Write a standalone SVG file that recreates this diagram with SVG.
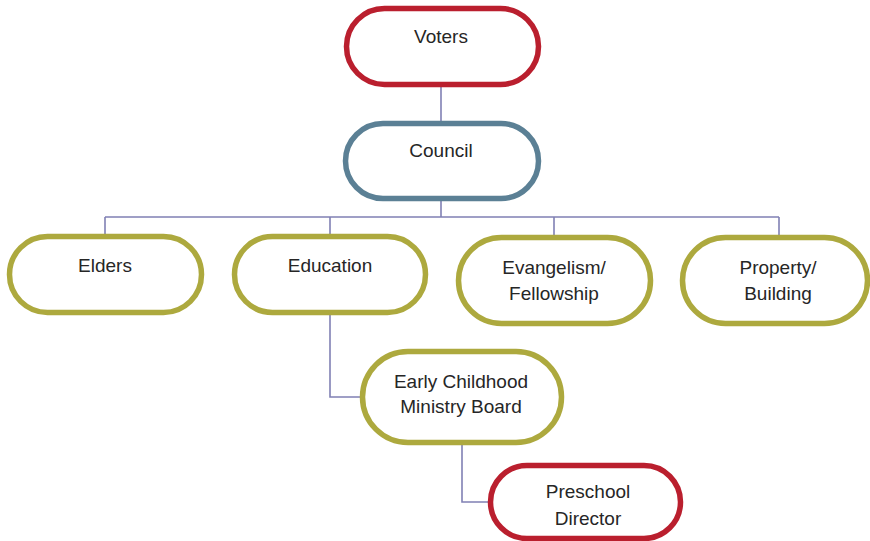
<svg xmlns="http://www.w3.org/2000/svg" width="870" height="541" viewBox="0 0 870 541">
<style>
.n{fill:#fff;stroke-width:5.5}
.red{stroke:#BA1F2E}
.blue{stroke:#5B8095}
.olive{stroke:#ADA93E}
.c{fill:none;stroke:#8080B4;stroke-width:1.6}
text{font-family:"Liberation Sans",Arial,sans-serif;font-size:19px;fill:#262626;text-anchor:middle}
</style>
<rect width="870" height="541" fill="#fff"/>
<g id="connectors">
<path class="c" d="M441,87V122"/>
<path class="c" d="M441,201V217M105,217H779M105,217V235M330,217V235M554,217V236M779,217V236"/>
<path class="c" d="M330,315V397H361"/>
<path class="c" d="M462,445V502H489"/>
</g>
<g id="voters">
<rect class="n red" x="346.5" y="8.5" width="192" height="76" rx="38"/>
<text x="441" y="43">Voters</text>
</g>
<g id="council">
<rect class="n blue" x="345.5" y="123.5" width="193" height="75" rx="37.5"/>
<text x="441" y="157">Council</text>
</g>
<g id="elders">
<rect class="n olive" x="9.5" y="236.5" width="192" height="76" rx="38"/>
<text x="105" y="272">Elders</text>
</g>
<g id="education">
<rect class="n olive" x="234.5" y="236.5" width="191" height="76" rx="38"/>
<text x="330" y="272">Education</text>
</g>
<g id="evangelism">
<rect class="n olive" x="458.5" y="237.5" width="192" height="86" rx="43"/>
<text x="554" y="274">Evangelism/</text>
<text x="554" y="300">Fellowship</text>
</g>
<g id="property">
<rect class="n olive" x="682.5" y="237.5" width="185" height="86" rx="43"/>
<text x="778" y="274">Property/</text>
<text x="778" y="300">Building</text>
</g>
<g id="ecmb">
<rect class="n olive" x="362.5" y="351.5" width="199" height="91" rx="45.5"/>
<text x="461" y="388">Early Childhood</text>
<text x="461" y="413">Ministry Board</text>
</g>
<g id="preschool">
<rect class="n red" x="490.5" y="465.5" width="190" height="73" rx="36.5"/>
<text x="588" y="498">Preschool</text>
<text x="588" y="525">Director</text>
</g>
</svg>
